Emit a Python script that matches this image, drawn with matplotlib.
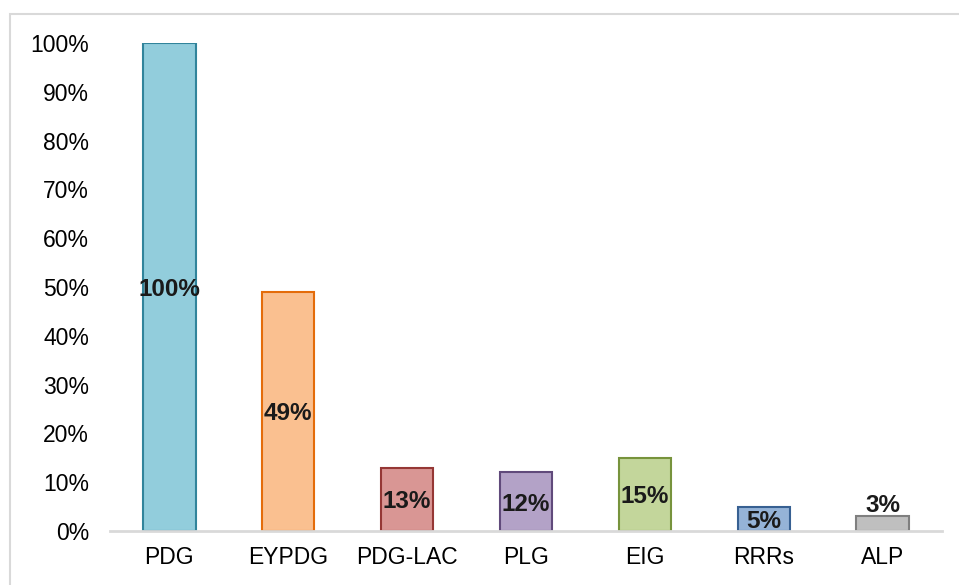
import matplotlib
matplotlib.use("Agg")
import matplotlib.pyplot as plt
from matplotlib.patches import Rectangle

categories = ["PDG", "EYPDG", "PDG-LAC", "PLG", "EIG", "RRRs", "ALP"]
values = [100, 49, 13, 12, 15, 5, 3]
fill_colors = ["#92CDDC", "#FAC090", "#D99694", "#B3A2C7", "#C3D69B", "#95B3D7", "#BFBFBF"]
edge_colors = ["#31849B", "#E46C0A", "#953735", "#604A7B", "#77933C", "#376092", "#7F7F7F"]
yticks = [0, 10, 20, 30, 40, 50, 60, 70, 80, 90, 100]

plt.rcParams['font.family'] = ['Liberation Sans', 'DejaVu Sans']

W, H = 959, 585
fig = plt.figure(figsize=(W / 100, H / 100), dpi=100)
fig.patches.append(Rectangle((10 / W, -0.2), 1.2, (H - 14) / H + 0.2, transform=fig.transFigure,
                             fill=False, edgecolor="#d9d9d9", linewidth=1.5))

ax = fig.add_axes([110 / W, (H - 531) / H, (942 - 110) / W, (531 - 43) / H])
x = range(len(categories))
ax.bar(x, values, width=0.44, color=fill_colors, edgecolor=edge_colors, linewidth=1.5, zorder=3)

for i, v in enumerate(values):
    y = v / 2 - 0.5 if v >= 5 else v + 2.3
    ax.text(i, y, f"{v}%", ha="center", va="center", fontsize=17.5, fontweight="bold",
            color="#1a1a1a", zorder=4)

ax.set_xlim(-0.5, len(categories) - 0.5)
ax.set_ylim(0, 100)
ax.set_yticks(yticks)
ax.set_yticklabels([f"{t}%" for t in yticks], fontsize=16.5)
ax.set_xticks(list(x))
ax.set_xticklabels(categories, fontsize=16.5)
ax.tick_params(axis="both", length=0)
ax.tick_params(axis="y", pad=15)
ax.tick_params(axis="x", pad=11)
for s in ["top", "right", "left"]:
    ax.spines[s].set_visible(False)
ax.spines["bottom"].set_color("#d9d9d9")
ax.spines["bottom"].set_linewidth(2)
ax.spines["bottom"].set_zorder(5)

fig.savefig("out.png", dpi=100)
